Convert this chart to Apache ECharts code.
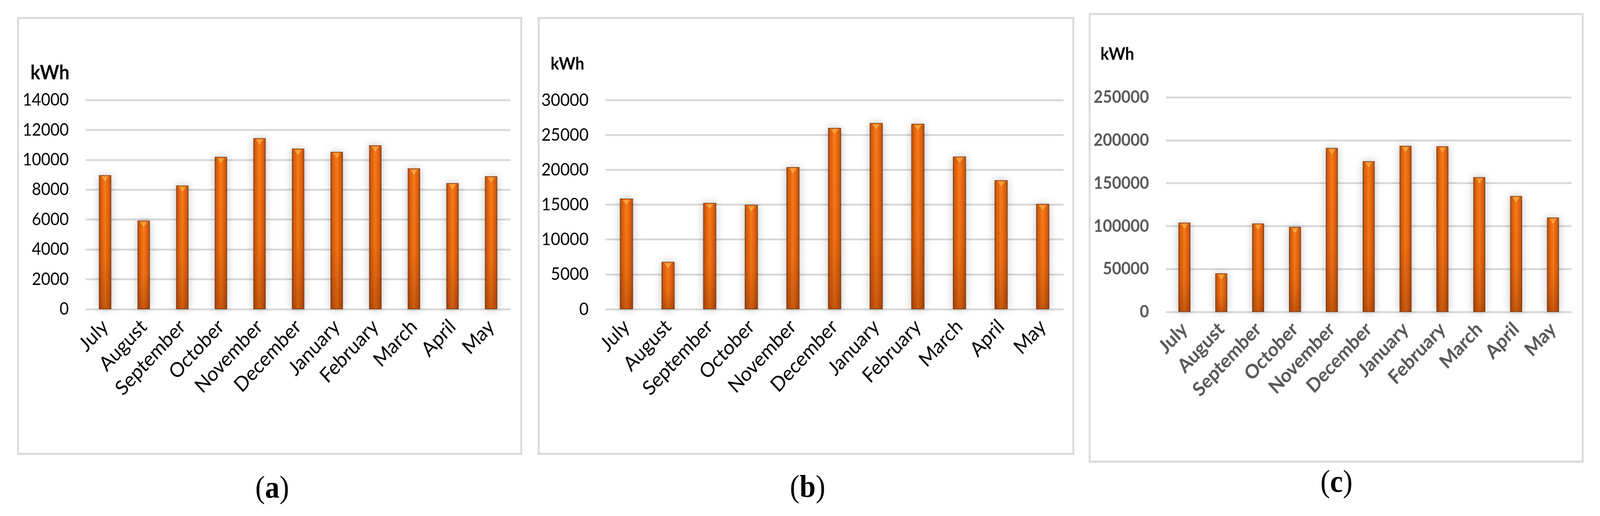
<!DOCTYPE html>
<html>
<head>
<meta charset="utf-8">
<script src="https://cdn.jsdelivr.net/npm/echarts@6/dist/echarts.min.js"></script>
<style>
html,body{margin:0;padding:0;background:#fff;overflow:hidden;}
#chart{width:4420px;height:1320px;transform-origin:0 0;}
</style>
</head>
<body>
<div id="chart"></div>
<script>
// ---- data ----
const months = ['July','August','September','October','November','December','January','February','March','April','May'];
const valuesA = [8970, 5930, 8280, 10200, 11450, 10750, 10530, 10970, 9430, 8440, 8900];
const valuesB = [15870, 6800, 15250, 14970, 20390, 26000, 26700, 26600, 21900, 18500, 15100];
const valuesC = [104000, 45000, 103000, 99000, 191000, 175500, 193500, 193000, 157000, 135000, 110000];
const axisA = {max: 14000, interval: 2000};
const axisB = {max: 30000, interval: 5000};
const axisC = {max: 250000, interval: 50000};
const unitLabel = 'kWh';
const panelLabels = ['a', 'b', 'c'];

// fit the 4420-wide design into the actual viewport
const el = document.getElementById('chart');
const sx = Math.min(1, window.innerWidth / 4420);
const sy = Math.min(1, window.innerHeight / 1320);
el.style.transform = 'scale(' + sx + ',' + sy + ')';

// ---- styling ----
const FONT = 'Lato';
const grids = [
  {left: 237, top: 256, width: 1173, height: 535},
  {left: 1673, top: 256, width: 1265, height: 535},
  {left: 3221, top: 249, width: 1120, height: 549}
];
const barWidths = [34, 36, 33];
const panelsCfg = [
  {vals: valuesA, ax: axisA, bold: false, color: '#000', ySize: 44, xSize: 52},
  {vals: valuesB, ax: axisB, bold: false, color: '#000', ySize: 45, xSize: 52},
  {vals: valuesC, ax: axisC, bold: true, color: '#595959', ySize: 44, xSize: 50}
];

const barFill = new echarts.graphic.LinearGradient(0, 0, 1, 0, [
  {offset: 0, color: '#8e3f0c'},
  {offset: 0.12, color: '#d45c0e'},
  {offset: 0.5, color: '#ff7c18'},
  {offset: 0.88, color: '#d45c0e'},
  {offset: 1, color: '#8e3f0c'}
]);
const shadeFill = new echarts.graphic.LinearGradient(0, 0, 0, 1, [
  {offset: 0, color: 'rgba(120,40,0,0)'},
  {offset: 0.6, color: 'rgba(120,40,0,0.08)'},
  {offset: 1, color: 'rgba(110,35,0,0.35)'}
]);
const triFill = new echarts.graphic.LinearGradient(0, 0, 0, 1, [
  {offset: 0, color: '#ffc46a'},
  {offset: 1, color: '#ff9a30'}
]);

const xAxis = [], yAxis = [], series = [];
panelsCfg.forEach((p, i) => {
  xAxis.push({
    type: 'category', gridIndex: i, data: months,
    axisLine: {show: false}, axisTick: {show: false},
    axisLabel: {rotate: 45, margin: 36, fontFamily: FONT, fontSize: p.xSize,
      fontWeight: p.bold ? 'bold' : 'normal', color: p.color, interval: 0}
  });
  yAxis.push({
    type: 'value', gridIndex: i, min: 0, max: p.ax.max, interval: p.ax.interval,
    axisLine: {show: false}, axisTick: {show: false},
    axisLabel: {margin: 47, fontFamily: FONT, fontSize: p.ySize,
      fontWeight: p.bold ? 'bold' : 'normal', color: p.color,
      formatter: v => String(v)},
    splitLine: {lineStyle: {color: '#d9d9d9', width: 5}}
  });
  series.push({
    type: 'bar', xAxisIndex: i, yAxisIndex: i, data: p.vals,
    barWidth: barWidths[i], silent: true,
    itemStyle: {color: barFill, borderColor: '#7a3a12', borderWidth: 1.5,
      shadowBlur: 22, shadowColor: 'rgba(0,0,0,0.22)'}
  });
  series.push({
    type: 'bar', xAxisIndex: i, yAxisIndex: i, data: p.vals,
    barWidth: barWidths[i], barGap: '-100%', silent: true,
    itemStyle: {color: shadeFill}
  });
  series.push({
    type: 'scatter', xAxisIndex: i, yAxisIndex: i, data: p.vals, silent: true,
    symbol: 'triangle', symbolRotate: 180,
    symbolSize: [Math.round(barWidths[i] * 0.62), 13],
    symbolOffset: [0, 9],
    itemStyle: {color: triFill}, z: 5
  });
});

const boxes = [
  {x: 50, y: 46, w: 1390, h: 1115},
  {x: 1488, y: 46, w: 1477, h: 1115},
  {x: 3010, y: 36, w: 1362, h: 1145}
];
const unitPos = [
  {x: 84, y: 187, size: 51},
  {x: 1521, y: 164, size: 44},
  {x: 3040, y: 139, size: 44}
];
const labelPos = [
  {x: 752, y: 1252},
  {x: 2231, y: 1250},
  {x: 3692, y: 1237}
];

const graphic = [];
boxes.forEach(b => graphic.push({
  type: 'rect', shape: {x: b.x, y: b.y, width: b.w, height: b.h}, silent: true,
  style: {fill: 'none', stroke: '#d9d9d9', lineWidth: 5}, z: -1
}));
unitPos.forEach(u => graphic.push({
  type: 'text', x: u.x, y: u.y, silent: true,
  style: {text: unitLabel, fontFamily: FONT, fontWeight: 'bold', fontSize: u.size,
    fill: '#000', textVerticalAlign: 'middle', verticalAlign: 'middle'}
}));
labelPos.forEach((l, i) => graphic.push({
  type: 'text', x: l.x, y: l.y, silent: true,
  style: {
    text: '{p|(}{b|' + panelLabels[i] + '}{p|)}',
    rich: {
      p: {fontFamily: 'Liberation Serif', fontSize: 80, fill: '#000'},
      b: {fontFamily: 'Liberation Serif', fontSize: 80, fontWeight: 'bold', fill: '#000'}
    },
    align: 'center', verticalAlign: 'middle', textAlign: 'center', textVerticalAlign: 'middle'
  }
}));

const chart = echarts.init(el, null, {renderer: 'canvas', width: 4420, height: 1320});
chart.setOption({
  animation: false,
  backgroundColor: '#fff',
  grid: grids.map(g => Object.assign({containLabel: false}, g)),
  xAxis, yAxis, series, graphic
});
</script>
</body>
</html>
